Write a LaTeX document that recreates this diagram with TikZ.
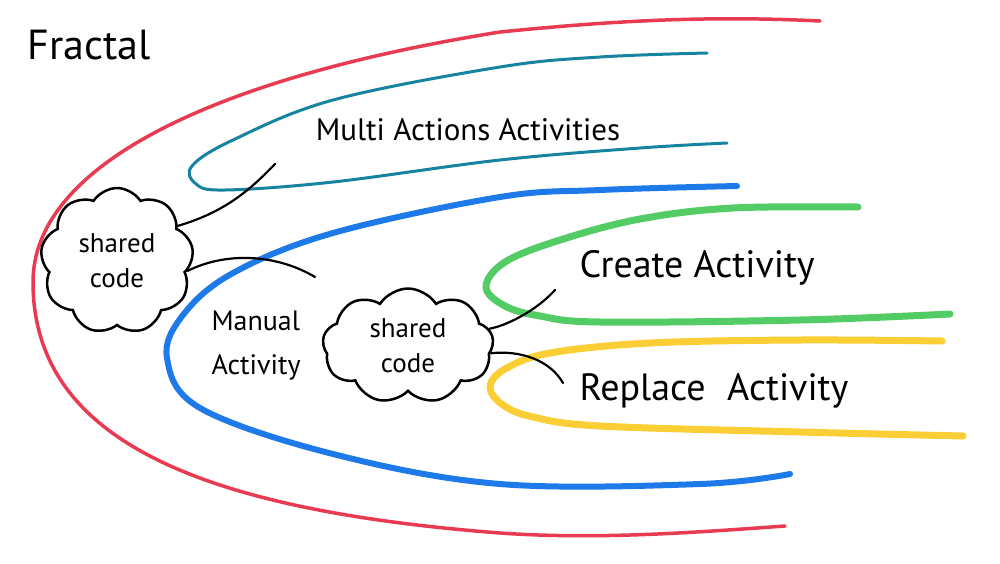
\documentclass[tikz,border=0pt]{standalone}
\usepackage{fontspec}
\setmainfont{PT Sans}
\usetikzlibrary{shapes.symbols}

\definecolor{redline}{RGB}{232,58,80}
\definecolor{tealline}{RGB}{22,132,160}
\definecolor{blueline}{RGB}{30,122,232}
\definecolor{greenline}{RGB}{84,204,102}
\definecolor{yellowline}{RGB}{250,206,52}

\begin{document}
\begin{tikzpicture}[x=1pt,y=-1pt,
    loop/.style={line cap=round,line join=round},
    cloudy/.style={cloud,draw,line width=2.5pt,cloud puffs=9,cloud puff arc=115,
      cloud ignores aspect,inner sep=0pt,align=center,font=\fontsize{27}{35}\selectfont},
    link/.style={line width=2.2pt,line cap=round}]
  \useasboundingbox (0,0) rectangle (1000,563);

  % the loops
  \draw[loop,redline,line width=3.5pt] (820,21) .. controls (700,15) and (600,22) .. (500,32)
    .. controls (200,80) and (33,170) .. (33,282)
    .. controls (33,440) and (200,510) .. (500,533)
    .. controls (600,540) and (700,532) .. (785,526);
  \draw[loop,tealline,line width=3pt] plot[smooth,tension=0.6] coordinates
    {(707,53) (600,57) (500,67) (333,100) (233,140) (192,166) (196,184) (225,190)
     (333,182) (500,160) (640,148) (727,143)};
  \draw[loop,blueline,line width=6pt] plot[smooth,tension=0.6] coordinates
    {(737,186) (600,190) (500,197) (333,233) (233,273) (183,315) (167,358)
     (200,408) (333,454) (500,484) (700,484) (790,474)};
  \draw[loop,greenline,line width=7pt] plot[smooth,tension=0.6] coordinates
    {(858,207) (733,208) (640,219) (560,240) (505,262) (486,287) (505,306)
     (540,316) (600,322) (800,320) (950,314)};
  \draw[loop,yellowline,line width=7pt] plot[smooth,tension=0.6] coordinates
    {(942,341) (800,340) (650,343) (550,353) (505,369) (490,387) (503,405)
     (533,417) (600,426) (800,432) (963,436)};

  % texts
  \node[font=\fontsize{42}{48}\selectfont] (title) at (89,45) {Fractal};
  \node[font=\fontsize{31}{36}\selectfont] (multi) at (468,130) {Multi Actions Activities};
  \node[font=\fontsize{28}{44}\selectfont,align=left,anchor=west] (manual) at (208,346)
    {Manual\\Activity};
  \node[font=\fontsize{38}{44}\selectfont,anchor=west] (create) at (576,268) {Create Activity};
  \node[font=\fontsize{38}{44}\selectfont,anchor=west] (replace) at (576,391) {Replace\hspace{0.3em} Activity};

  % shared code
  \node[cloudy,minimum width=153pt,minimum height=146pt] (shared1) at (117,261) {shared\\code};
  \node[cloudy,minimum width=171pt,minimum height=115pt] (shared2) at (408,346) {shared\\code};

  \coordinate (m1) at (275,164);
  \coordinate (m2) at (315,277);
  \coordinate (c1) at (555,290);
  \coordinate (r1) at (563,383);
  \draw[link] (shared1.30) .. controls (225,212) and (250,190) .. (m1);
  \draw[link] (shared1.-8) .. controls (230,250) and (280,256) .. (m2);
  \draw[link] (shared2.12) .. controls (505,326) and (535,312) .. (c1);
  \draw[link] (shared2.-5) .. controls (520,350) and (550,360) .. (r1);
\end{tikzpicture}
\end{document}
